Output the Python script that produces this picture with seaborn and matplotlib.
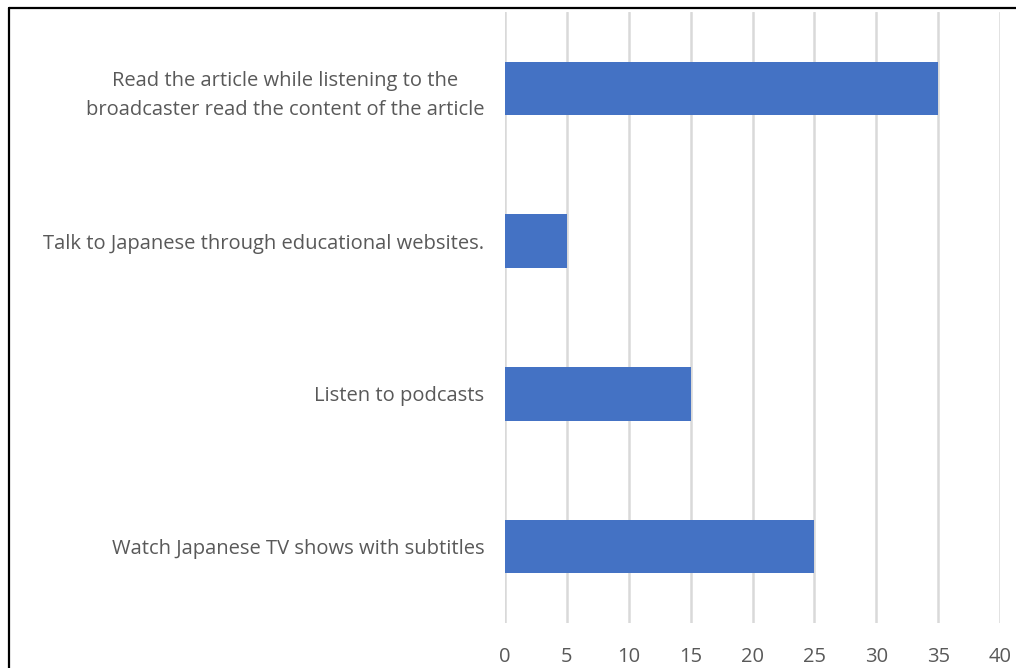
import matplotlib
matplotlib.use("Agg")
import matplotlib.pyplot as plt
import pandas as pd
import seaborn as sns
from matplotlib.lines import Line2D

activities = [
    "Read the article while listening to the\nbroadcaster read the content of the article",
    "Talk to Japanese through educational websites.",
    "Listen to podcasts",
    "Watch Japanese TV shows with subtitles",
]
counts = [35, 5, 15, 25]
x_ticks = [0, 5, 10, 15, 20, 25, 30, 35, 40]

BAR_COLOR = "#4472C4"
TEXT_COLOR = "#595959"
GRID_COLOR = "#D9D9D9"


def main() -> None:
    sns.set_theme(style="white")
    plt.rcParams["font.family"] = ["Open Sans", "DejaVu Sans"]

    df = pd.DataFrame({"activity": activities, "count": counts})

    fig = plt.figure(figsize=(10.16, 6.68), dpi=100)
    ax = fig.add_axes([505 / 1016, 45 / 668, 495 / 1016, 611 / 668])

    sns.barplot(data=df, x="count", y="activity", orient="h",
                color=BAR_COLOR, width=0.35, saturation=1, linewidth=0,
                ax=ax, zorder=3)

    ax.set_xlim(0, 40)
    ax.set_xticks(x_ticks)
    ax.xaxis.grid(True, color=GRID_COLOR, linewidth=1.8, zorder=0)
    ax.yaxis.grid(False)
    ax.set_axisbelow(True)
    for side in ["top", "right", "bottom", "left"]:
        ax.spines[side].set_visible(False)
    ax.tick_params(axis="both", length=0, colors=TEXT_COLOR, labelsize=14.5)
    ax.tick_params(axis="y", pad=15)
    ax.tick_params(axis="x", pad=17)
    for lbl in ax.get_yticklabels():
        lbl.set_multialignment("center")
        lbl.set_linespacing(1.6)
    ax.set_xlabel("")
    ax.set_ylabel("")

    # frame lines at top and left like the cropped chart border
    fig.add_artist(Line2D([8.5 / 1016, 1.0], [1 - 7.5 / 668, 1 - 7.5 / 668],
                          transform=fig.transFigure, color="black", linewidth=1.6))
    fig.add_artist(Line2D([8.5 / 1016, 8.5 / 1016], [0, 1 - 7.5 / 668],
                          transform=fig.transFigure, color="black", linewidth=1.6))

    fig.savefig("out.png", dpi=100, facecolor="white")


if __name__ == "__main__":
    main()
